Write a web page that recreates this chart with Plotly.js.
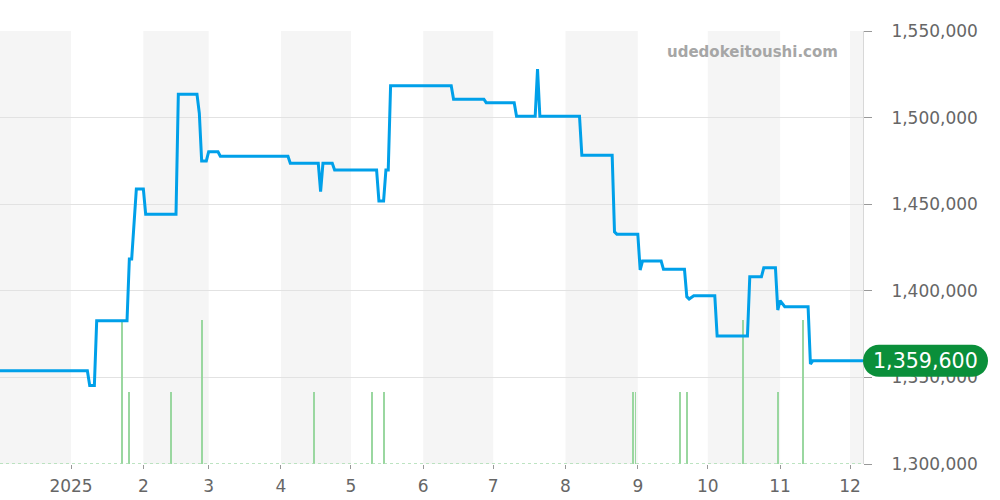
<!DOCTYPE html>
<html>
<head>
<meta charset="utf-8">
<script src="https://cdn.plot.ly/plotly-3.0.1.min.js"></script>
<style>
html,body{margin:0;padding:0;background:#fff;}
#chart{width:1000px;height:500px;}
</style>
</head>
<body>
<div id="chart"></div>
<script>
// ---- data ----
const priceDates = ['2024-12-01','2025-01-08','2025-01-09','2025-01-11','2025-01-12','2025-01-25','2025-01-26','2025-01-27','2025-01-29','2025-02-01','2025-02-02','2025-02-15','2025-02-16','2025-02-24','2025-02-25','2025-02-26','2025-02-28','2025-03-01','2025-03-05','2025-03-06','2025-04-04','2025-04-05','2025-04-17','2025-04-18','2025-04-19','2025-04-23','2025-04-24','2025-05-12','2025-05-13','2025-05-15','2025-05-16','2025-05-17','2025-05-18','2025-06-13','2025-06-14','2025-06-27','2025-06-28','2025-07-10','2025-07-11','2025-07-19','2025-07-20','2025-07-21','2025-08-07','2025-08-08','2025-08-21','2025-08-22','2025-08-23','2025-09-01','2025-09-02','2025-09-03','2025-09-11','2025-09-12','2025-09-21','2025-09-22','2025-09-23','2025-09-25','2025-10-04','2025-10-05','2025-10-18','2025-10-19','2025-10-24','2025-10-25','2025-10-30','2025-10-31','2025-11-01','2025-11-03','2025-11-13','2025-11-14','2025-11-15','2025-12-07'];
const priceValues = [1353800,1353800,1345300,1345300,1382700,1382700,1418400,1418400,1458800,1458800,1444200,1444200,1513500,1513500,1502500,1475000,1475000,1480300,1480300,1477700,1477700,1473600,1473600,1457200,1473600,1473600,1469800,1469800,1451900,1451900,1469800,1469800,1518400,1518400,1510600,1510600,1508600,1508600,1500800,1500800,1528000,1500800,1500800,1478200,1478200,1434000,1432700,1432700,1412000,1417200,1417200,1412400,1412400,1396600,1395300,1397200,1397200,1373900,1373900,1408100,1408100,1413300,1413300,1388900,1394300,1390800,1390800,1357700,1359600,1359600];

const volDates = ['2025-01-23','2025-01-26','2025-02-13','2025-02-26','2025-04-15','2025-05-10','2025-05-15','2025-08-30','2025-08-31','2025-09-19','2025-09-22','2025-10-16','2025-10-31','2025-11-11'];
const volCounts = [2,1,1,2,1,1,1,1,1,1,1,2,1,2];

const shadeStart = ['2024-12-01','2025-02-01','2025-04-01','2025-06-01','2025-08-01','2025-10-01','2025-12-01'];
const shadeEnd   = ['2025-01-01','2025-03-01','2025-05-01','2025-07-01','2025-09-01','2025-11-01','2026-01-01'];

const tickDates  = ['2025-01-01','2025-02-01','2025-03-01','2025-04-01','2025-05-01','2025-06-01','2025-07-01','2025-08-01','2025-09-01','2025-10-01','2025-11-01','2025-12-01'];
const tickLabels = ['2025','2','3','4','5','6','7','8','9','10','11','12'];

const priceTicks = [1300000,1350000,1400000,1450000,1500000,1550000];
const xRange = ['2024-12-01 13:00','2025-12-06 13:00'];
const watermark = 'udedokeitoushi.com';

// ---- chart ----
const lastPrice = priceValues[priceValues.length-1];
const lastLabel = lastPrice.toLocaleString('en-US');

const FONT = 'DejaVu Sans, sans-serif';

const traces = [
  {
    type:'scatter', mode:'lines', x:[xRange[0], xRange[1]], y:[0,0],
    xaxis:'x', yaxis:'y',
    line:{color:'#a8dcae', width:1.5, dash:'dot'}, hoverinfo:'skip', showlegend:false
  },
  {
    type:'bar', x:volDates, y:volCounts, xaxis:'x', yaxis:'y',
    width:70000000,
    marker:{color:'#9ad7a0', line:{width:0}}, showlegend:false
  },
  {
    type:'scatter', mode:'lines', x:priceDates, y:priceValues,
    xaxis:'x', yaxis:'y2',
    line:{color:'#00a0e9', width:3, shape:'linear'}, showlegend:false
  }
];

const shapes = shadeStart.map((s,i)=>({
  type:'rect', xref:'x', yref:'paper', x0:s, x1:shadeEnd[i], y0:0, y1:1,
  fillcolor:'#f5f5f5', line:{width:0}, layer:'below'
}));

shapes.push({
  type:'path', xref:'paper', yref:'y2',
  xsizemode:'pixel', ysizemode:'pixel', xanchor:1, yanchor:lastPrice,
  path:'M 16 16 L 109 16 C 118 16 125 9 125 0 C 125 -9 118 -16 109 -16 L 16 -16 C 7 -16 0 -9 0 0 C 0 9 7 16 16 16 Z',
  fillcolor:'#0a8f3a', line:{width:0}, layer:'above'
});

const layout = {
  width:1000, height:500,
  margin:{l:0, r:137, t:31, b:36},
  paper_bgcolor:'#fff', plot_bgcolor:'#fff',
  showlegend:false,
  bargap:0,
  font:{family:FONT, color:'#666', size:17},
  xaxis:{
    type:'date', range:xRange,
    tickvals:tickDates, ticktext:tickLabels,
    ticks:'outside', ticklen:4, tickcolor:'#999', tickwidth:1,
    showgrid:false, zeroline:false, showline:false,
    tickfont:{family:FONT, size:17, color:'#666'},
    ticklabelstandoff:3
  },
  yaxis:{
    range:[0,6], visible:false, showgrid:false, zeroline:false, fixedrange:true
  },
  yaxis2:{
    overlaying:'y', side:'right', anchor:'x',
    range:[1300000,1550000],
    tickvals:priceTicks, tickformat:',d',
    ticks:'outside', ticklen:8, tickcolor:'#999', tickwidth:1,
    showgrid:true, gridcolor:'#e2e2e2', gridwidth:1,
    zeroline:false, showline:true, linecolor:'#d8d8d8', linewidth:1,
    tickfont:{family:FONT, size:17, color:'#666'},
    ticklabelstandoff:16
  },
  shapes:shapes,
  annotations:[
    {
      xref:'paper', yref:'y2', x:1, y:lastPrice, xanchor:'center', yanchor:'middle',
      xshift:62.5, text:lastLabel, showarrow:false,
      font:{family:FONT, size:20.6, color:'#fff'}
    },
    {
      xref:'paper', yref:'paper', x:840/863, y:(464-52)/433, xanchor:'right', yanchor:'middle',
      text:'<b>'+watermark+'</b>', showarrow:false,
      font:{family:FONT, size:15, color:'#a6a6a6'}
    }
  ]
};

Plotly.newPlot('chart', traces, layout, {displayModeBar:false, staticPlot:true});
</script>
</body>
</html>
